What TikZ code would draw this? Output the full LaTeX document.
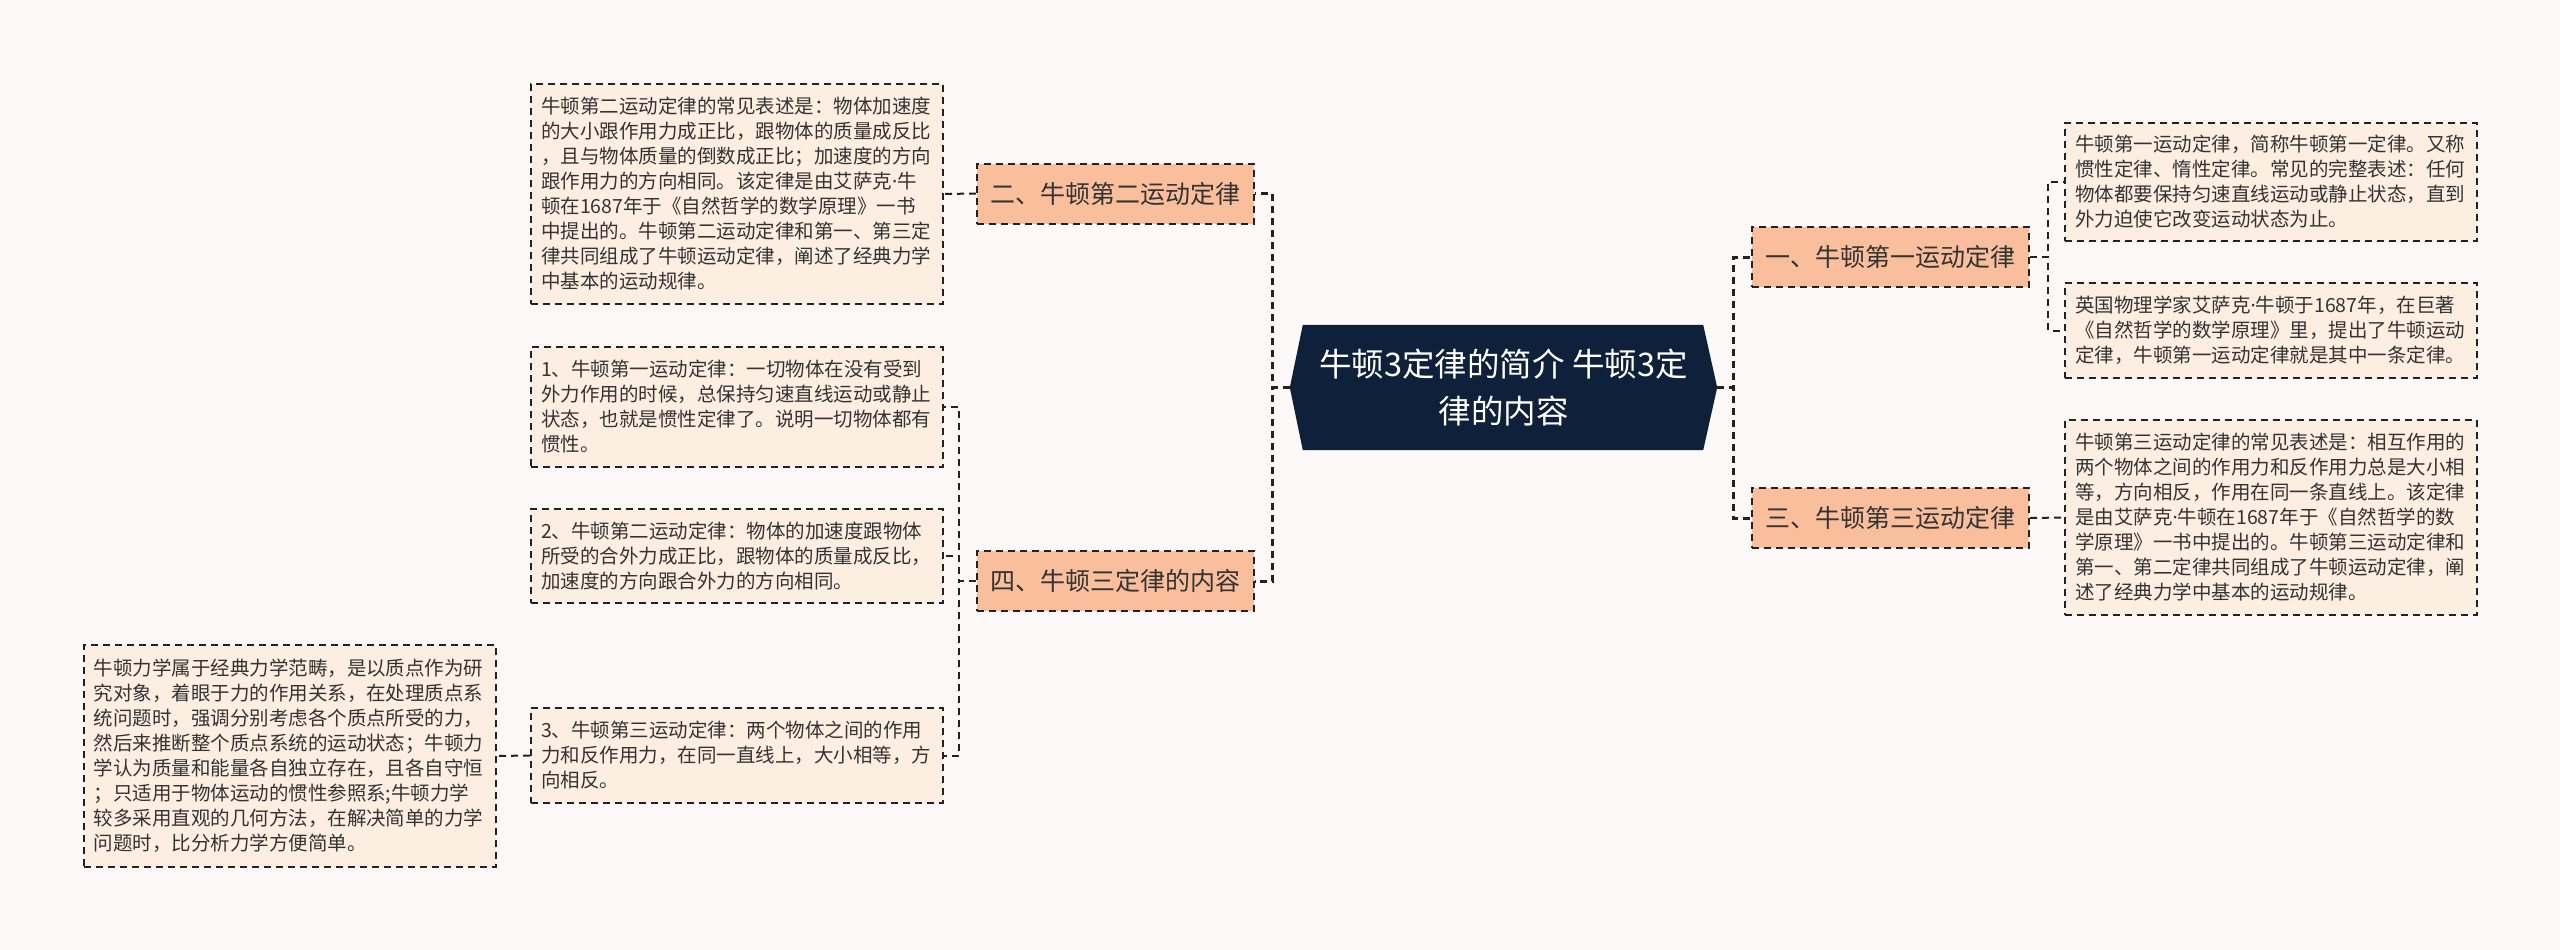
\documentclass[tikz,border=0pt]{standalone}
\usepackage{fontspec}
\newfontfamily\cjk{Noto Sans CJK SC}
\newfontfamily\latinsans{Noto Sans}
\newcommand{\mdot}{{\latinsans ·}}
\usetikzlibrary{backgrounds}
\definecolor{bgc}{HTML}{FCF9F8}
\definecolor{leaffill}{HTML}{FDEEE2}
\definecolor{branchfill}{HTML}{F9BF9D}
\definecolor{rootfill}{HTML}{0F203A}
\definecolor{linec}{HTML}{222222}
\definecolor{txt}{HTML}{333333}
\tikzset{
  dashln/.style={draw=linec, line width=2pt, dash pattern=on 7pt off 5pt},
  conn/.style={dashln},
  mainconn/.style={draw=linec, line width=3pt, dash pattern=on 7pt off 5pt},
  leaf/.style={dashln, fill=leaffill, font=\cjk\fontsize{19.5}{25}\selectfont, text=txt,
    align=left, text width=392pt, inner xsep=10pt, inner ysep=0pt, minimum width=412pt},
  branch/.style={dashln, fill=branchfill, font=\cjk\fontsize{25}{30}\selectfont, text=txt,
    minimum width=277pt, minimum height=60pt, inner sep=0pt},
  rootnode/.style={font=\cjk\fontsize{32.5}{47}\selectfont, text=white, align=center,
    minimum width=427pt, minimum height=125pt, inner sep=0pt}
}
\begin{document}
\begin{tikzpicture}[x=1pt,y=-1pt]
\begin{scope}[on background layer]
\fill[bgc] (0,0) rectangle (2560,950);
\end{scope}
\useasboundingbox (0,0) rectangle (2560,950);

% root
\node[rootnode] (root) at (1503.5,387.5) {牛顿3定律的简介 牛顿3定\\律的内容};
\begin{scope}[on background layer]
\fill[rootfill] ([xshift=13pt]root.north west) -- ([xshift=-14pt]root.north east) -- (root.east)
  -- ([xshift=-14pt]root.south east) -- ([xshift=13pt]root.south west) -- (root.west) -- cycle;
\end{scope}

% branches
\node[branch] (b2) at (1115.5,193.5) {二、牛顿第二运动定律};
\node[branch] (b4) at (1115.5,581) {四、牛顿三定律的内容};
\node[branch] (b1) at (1890.5,257) {一、牛顿第一运动定律};
\node[branch] (b3) at (1890.5,518) {三、牛顿第三运动定律};

% left leaves
\node[leaf, minimum height=220pt] (l1) at (737,194) {牛顿第二运动定律的常见表述是：物体加速度\\的大小跟作用力成正比，跟物体的质量成反比\\，且与物体质量的倒数成正比；加速度的方向\\跟作用力的方向相同。该定律是由艾萨克\mdot 牛\\顿在1687年于《自然哲学的数学原理》一书\\中提出的。牛顿第二运动定律和第一、第三定\\律共同组成了牛顿运动定律，阐述了经典力学\\中基本的运动规律。};
\node[leaf, minimum height=120pt] (q1) at (737,407) {1、牛顿第一运动定律：一切物体在没有受到\\外力作用的时候，总保持匀速直线运动或静止\\状态，也就是惯性定律了。说明一切物体都有\\惯性。};
\node[leaf, minimum height=94pt] (q2) at (737,556) {2、牛顿第二运动定律：物体的加速度跟物体\\所受的合外力成正比，跟物体的质量成反比，\\加速度的方向跟合外力的方向相同。};
\node[leaf, minimum height=95pt] (q3) at (737,755.5) {3、牛顿第三运动定律：两个物体之间的作用\\力和反作用力，在同一直线上，大小相等，方\\向相反。};
\node[leaf, minimum height=222pt, minimum width=411pt] (fl) at (289.5,756) {牛顿力学属于经典力学范畴，是以质点作为研\\究对象，着眼于力的作用关系，在处理质点系\\统问题时，强调分别考虑各个质点所受的力，\\然后来推断整个质点系统的运动状态；牛顿力\\学认为质量和能量各自独立存在，且各自守恒\\；只适用于物体运动的惯性参照系;牛顿力学\\较多采用直观的几何方法，在解决简单的力学\\问题时，比分析力学方便简单。};

% right leaves
\node[leaf, minimum height=118pt] (r1) at (2271,182) {牛顿第一运动定律，简称牛顿第一定律。又称\\惯性定律、惰性定律。常见的完整表述：任何\\物体都要保持匀速直线运动或静止状态，直到\\外力迫使它改变运动状态为止。};
\node[leaf, minimum height=95pt] (r2) at (2271,330.5) {英国物理学家艾萨克\mdot 牛顿于1687年，在巨著\\《自然哲学的数学原理》里，提出了牛顿运动\\定律，牛顿第一运动定律就是其中一条定律。};
\node[leaf, minimum height=195pt] (r3) at (2271,517.5) {牛顿第三运动定律的常见表述是：相互作用的\\两个物体之间的作用力和反作用力总是大小相\\等，方向相反，作用在同一条直线上。该定律\\是由艾萨克\mdot 牛顿在1687年于《自然哲学的数\\学原理》一书中提出的。牛顿第三运动定律和\\第一、第二定律共同组成了牛顿运动定律，阐\\述了经典力学中基本的运动规律。};

% connectors
\draw[mainconn] (root.west) -- ++(-17,0) |- (b2.east);
\draw[mainconn] (root.west) -- ++(-17,0) |- (b4.east);
\draw[mainconn] (root.east) -- ++(16,0) |- (b1.west);
\draw[mainconn] (root.east) -- ++(16,0) |- (b3.west);
\draw[conn] (b2.west) -- (l1.east);
\draw[conn] (b4.west) -- ++(-17,0) |- (q1.east);
\draw[conn] (b4.west) -- ++(-17,0) |- (q2.east);
\draw[conn] (b4.west) -- ++(-17,0) |- (q3.east);
\draw[conn] (q3.west) -- (fl.east);
\draw[conn] (b1.east) -- ++(18,0) |- (r1.west);
\draw[conn] (b1.east) -- ++(18,0) |- (r2.west);
\draw[conn] (b3.east) -- (r3.west);
\end{tikzpicture}
\end{document}
